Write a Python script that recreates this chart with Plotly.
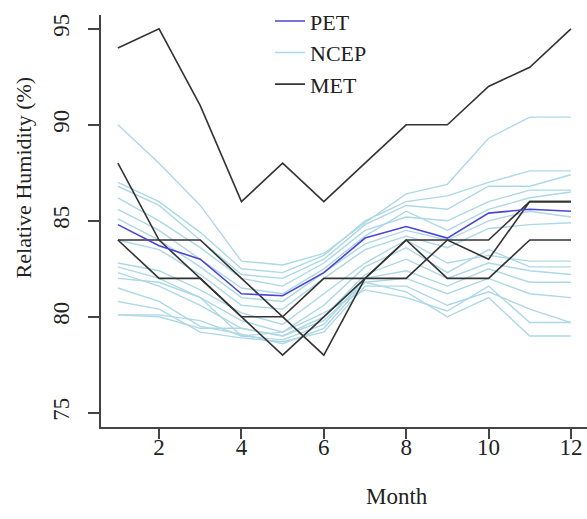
import plotly.graph_objects as go

months = list(range(1, 13))

pet = [84.8, 83.7, 83.0, 81.2, 81.1, 82.3, 84.1, 84.7, 84.1, 85.4, 85.6, 85.5]

ncep = [
    [90.0, 88.0, 85.8, 82.9, 82.7, 83.3, 84.9, 86.4, 86.9, 89.3, 90.4, 90.4],
    [87.0, 86.0, 84.4, 82.5, 82.3, 83.2, 85.0, 86.0, 86.3, 87.0, 87.6, 87.6],
    [86.8, 85.8, 84.0, 82.2, 82.0, 83.0, 84.8, 85.8, 85.6, 86.8, 86.8, 87.4],
    [86.2, 85.0, 83.6, 82.0, 81.6, 82.8, 84.5, 85.2, 85.0, 86.0, 86.6, 86.6],
    [85.6, 84.5, 83.0, 81.5, 81.2, 82.5, 84.2, 85.5, 84.5, 85.6, 86.2, 86.5],
    [85.1, 84.0, 82.6, 81.0, 80.8, 82.3, 83.8, 84.5, 84.0, 85.0, 85.5, 85.2],
    [84.0, 83.5, 82.2, 80.6, 80.4, 82.0, 83.5, 84.2, 83.6, 84.6, 84.8, 84.9],
    [82.8, 82.4, 81.4, 80.2, 79.6, 81.2, 82.8, 84.0, 82.8, 83.2, 82.9, 82.9],
    [82.6, 82.0, 81.0, 79.8, 79.2, 80.6, 82.6, 83.6, 82.3, 83.5, 82.6, 82.6],
    [82.3, 81.6, 80.6, 79.4, 79.0, 80.0, 82.2, 83.0, 82.0, 82.8, 82.4, 82.2],
    [82.0, 81.8, 81.0, 79.0, 78.8, 79.6, 82.0, 82.4, 81.6, 82.5, 81.8, 81.8],
    [81.5, 80.8, 79.5, 79.1, 78.6, 79.4, 81.8, 82.0, 81.2, 82.0, 81.2, 81.0],
    [80.8, 80.4, 79.2, 78.9, 78.7, 79.2, 81.6, 81.6, 80.6, 81.3, 80.4, 79.7],
    [80.1, 80.0, 79.4, 79.4, 79.0, 79.8, 81.8, 81.3, 80.0, 81.0, 79.0, 79.0],
    [80.1, 80.1, 79.8, 79.0, 79.2, 80.2, 81.4, 81.0, 80.3, 81.6, 79.7, 79.7],
]

met = [
    [94, 95, 91, 86, 88, 86, 88, 90, 90, 92, 93, 95],
    [88, 84, 82, 80, 78, 80, 82, 84, 82, 82, 84, 84],
    [84, 84, 84, 82, 80, 78, 82, 84, 84, 83, 86, 86],
    [84, 82, 82, 80, 80, 82, 82, 82, 84, 84, 86, 86],
]

x_ticks = [2, 4, 6, 8, 10, 12]
y_ticks = [75, 80, 85, 90, 95]

FONT = "Liberation Serif"
TEXT_COLOR = "#222222"
NCEP_COLOR = "#add8e6"
MET_COLOR = "#333333"
PET_COLOR = "#4a45d4"

fig = go.Figure()

for i, s in enumerate(ncep):
    fig.add_trace(go.Scatter(
        x=months, y=s, mode="lines", name="NCEP",
        line=dict(color=NCEP_COLOR, width=1.4),
        legendgroup="ncep", showlegend=(i == 0), legendrank=2,
    ))

for i, s in enumerate(met):
    fig.add_trace(go.Scatter(
        x=months, y=s, mode="lines", name="MET",
        line=dict(color=MET_COLOR, width=1.6),
        legendgroup="met", showlegend=(i == 0), legendrank=3,
    ))

fig.add_trace(go.Scatter(
    x=months, y=pet, mode="lines", name="PET",
    line=dict(color=PET_COLOR, width=1.6),
    legendgroup="pet", showlegend=True, legendrank=1,
))

fig.update_layout(
    width=587, height=519,
    margin=dict(l=101, r=0, t=11, b=92),
    paper_bgcolor="white", plot_bgcolor="white",
    font=dict(family=FONT, size=23, color=TEXT_COLOR),
    showlegend=True,
    legend=dict(
        x=(270 - 101) / 486, y=1.036, xanchor="left", yanchor="top",
        bgcolor="rgba(0,0,0,0)", font=dict(size=22, family=FONT, color=TEXT_COLOR),
        tracegroupgap=0, itemwidth=30,
    ),
    xaxis=dict(
        range=[0.59, 12.39], tickvals=x_ticks, ticktext=[str(v) for v in x_ticks],
        showgrid=False, zeroline=False, showline=True, linecolor="#444444", linewidth=1.5,
        ticks="outside", ticklen=10, tickwidth=1.5, tickcolor="#444444",
        tickfont=dict(size=23, family=FONT, color=TEXT_COLOR),
        ticklabelstandoff=-11,
    ),
    yaxis=dict(
        range=[74.26, 95.72], tickvals=y_ticks, ticktext=[str(v) for v in y_ticks],
        showgrid=False, zeroline=False, showline=True, linecolor="#444444", linewidth=1.5,
        ticks="outside", ticklen=11, tickwidth=1.5, tickcolor="#444444",
        tickangle=-90, tickfont=dict(size=23, family=FONT, color=TEXT_COLOR),
        ticklabelstandoff=10,
    ),
    annotations=[
        dict(
            text="Relative Humidity (%)", textangle=-90,
            xref="paper", yref="paper", x=(23 - 101) / 486, y=(427 - 175) / 416,
            xanchor="center", yanchor="middle", showarrow=False,
            font=dict(size=22, family=FONT, color=TEXT_COLOR),
        ),
        dict(
            text="Month",
            xref="paper", yref="paper", x=(397 - 101) / 486, y=-(497 - 427) / 416,
            xanchor="center", yanchor="middle", showarrow=False,
            font=dict(size=23, family=FONT, color=TEXT_COLOR),
        ),
    ],
)

fig.write_html("out.html")
